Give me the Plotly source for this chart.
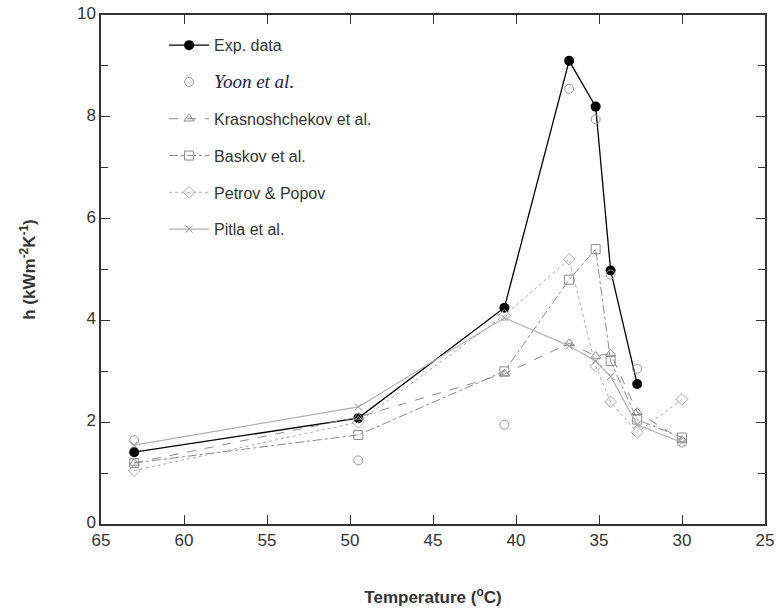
import plotly.graph_objects as go

temps = [63, 49.5, 40.7, 36.8, 35.2, 34.3, 32.7, 30]
exp_x = [63, 49.5, 40.7, 36.8, 35.2, 34.3, 32.7]
exp_h = [1.41, 2.08, 4.25, 9.1, 8.2, 4.98, 2.75]
yoon_h = [1.65, 1.25, 1.95, 8.55, 7.95, 4.9, 3.05, 1.6]
kras_h = [1.2, 2.1, 2.95, 3.55, 3.3, 3.35, 2.2, 1.65]
baskov_h = [1.2, 1.75, 3.0, 4.8, 5.4, 3.2, 2.05, 1.7]
petrov_h = [1.05, 2.0, 4.1, 5.2, 3.1, 2.4, 1.8, 2.45]
pitla_h = [1.55, 2.3, 4.05, 3.5, 3.2, 2.9, 1.95, 1.6]

names = ["Exp. data",
         "<i><span style='font-family:Liberation Serif;color:#1c1c4a;font-size:19px'>Yoon et al.</span></i>",
         "Krasnoshchekov et al.", "Baskov et al.", "Petrov &amp; Popov", "Pitla et al."]

x_ticks = [65, 60, 55, 50, 45, 40, 35, 30, 25]
y_ticks = [0, 2, 4, 6, 8, 10]

gray = "#8a8a8a"
fig = go.Figure()
fig.add_trace(go.Scatter(x=exp_x, y=exp_h, name=names[0], legendgroup="a",
                         mode="lines+markers", line=dict(color="black", width=1.3),
                         marker=dict(symbol="circle", size=10, color="black")))
fig.add_trace(go.Scatter(x=temps, y=yoon_h, name=names[1], legendgroup="b",
                         mode="markers",
                         marker=dict(symbol="circle-open", size=9, color="#999", line=dict(width=1))))
fig.add_trace(go.Scatter(x=temps, y=kras_h, name=names[2], legendgroup="c",
                         mode="lines+markers", line=dict(color=gray, width=1, dash="dash"),
                         marker=dict(symbol="triangle-up-open", size=9, color=gray, line=dict(width=1))))
fig.add_trace(go.Scatter(x=temps, y=baskov_h, name=names[3], legendgroup="d",
                         mode="lines+markers", line=dict(color=gray, width=1, dash="dashdot"),
                         marker=dict(symbol="square-open", size=9, color=gray, line=dict(width=1))))
fig.add_trace(go.Scatter(x=temps, y=petrov_h, name=names[4], legendgroup="e",
                         mode="lines+markers", line=dict(color="#aaaaaa", width=1, dash="dot"),
                         marker=dict(symbol="diamond-open", size=9, color="#aaaaaa", line=dict(width=1))))
fig.add_trace(go.Scatter(x=temps, y=pitla_h, name=names[5], legendgroup="f",
                         mode="lines+markers", line=dict(color="#b0b0b0", width=1.2),
                         marker=dict(symbol="x-thin-open", size=7, color="#999", line=dict(width=1))))

axis_common = dict(showline=True, linecolor="#333", linewidth=1.5, mirror="ticks",
                   ticks="inside", ticklen=9, tickcolor="#333", showgrid=False, zeroline=False,
                   automargin=False, ticklabeloverflow="allow",
                   tickfont=dict(family="Liberation Sans, Arial", size=17, color="#333"))

fig.update_layout(
    width=777, height=616,
    margin=dict(l=101, r=12, t=15, b=92),
    paper_bgcolor="white", plot_bgcolor="white",
    showlegend=True,
    legend=dict(x=0.095, y=0.974, xanchor="left", yanchor="top",
                bgcolor="rgba(0,0,0,0)", traceorder="grouped", tracegroupgap=13,
                font=dict(family="Liberation Sans, Arial", size=16, color="#333"),
                itemwidth=40),
    xaxis=dict(range=[65, 25], tickvals=x_ticks, ticktext=[str(v) for v in x_ticks],
               title=dict(text="<b>Temperature (<sup>o</sup>C)</b>",
                          font=dict(family="Liberation Sans Narrow, Liberation Sans, Arial", size=17, color="#333"),
                          standoff=42),
               **axis_common),
    yaxis=dict(range=[0, 10], tickvals=y_ticks, ticktext=[str(v) for v in y_ticks],
               ticklabelshift=-2,
               minor=dict(dtick=1, ticks="inside", ticklen=7, tickcolor="#333"),
               title=dict(text="<b>h (kWm<sup>-2</sup>K<sup>-1</sup>)</b>",
                          font=dict(family="Liberation Sans Narrow, Liberation Sans, Arial", size=17, color="#333"),
                          standoff=37),
               **axis_common),
)

fig.write_html("out.html", config={"displayModeBar": False},
               post_script="document.body.style.margin='0';document.body.style.overflow='hidden';")
